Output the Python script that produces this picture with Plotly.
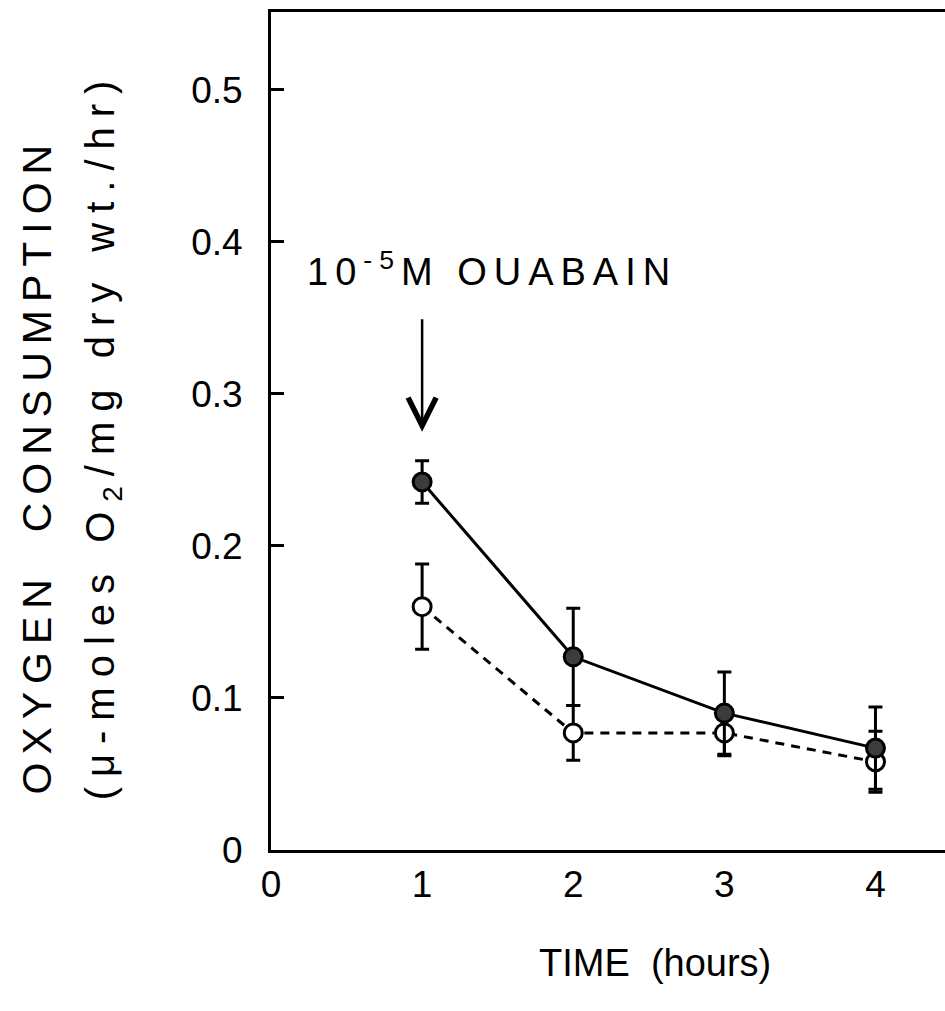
import plotly.graph_objects as go

# Oxygen consumption after ouabain addition
time_h = [1, 2, 3, 4]
control = [0.242, 0.127, 0.090, 0.067]
control_err = [0.014, 0.032, 0.027, 0.027]
ouabain = [0.160, 0.077, 0.077, 0.058]
ouabain_err = [0.028, 0.018, 0.015, 0.020]

y_ticks = [0, 0.1, 0.2, 0.3, 0.4, 0.5]
y_ticktext = ["0", "0.1", "0.2", "0.3", "0.4", "0.5"]
x_ticks = [0, 1, 2, 3, 4]
x_ticktext = ["0", "1", "2", "3", "4"]

FONT = "Liberation Sans"
INK = "black"
W = 3

fig = go.Figure()

fig.add_trace(go.Scatter(
    x=time_h, y=ouabain, mode="lines+markers",
    line=dict(color=INK, width=W, dash="9px,7px"),
    marker=dict(symbol="circle", size=18, color="white",
                line=dict(color=INK, width=W)),
    error_y=dict(type="data", array=ouabain_err, visible=True,
                 color=INK, thickness=W, width=7),
    showlegend=False,
))

fig.add_trace(go.Scatter(
    x=time_h, y=control, mode="lines+markers",
    line=dict(color=INK, width=W),
    marker=dict(symbol="circle", size=18, color="#3c3c3c",
                line=dict(color=INK, width=W)),
    error_y=dict(type="data", array=control_err, visible=True,
                 color=INK, thickness=W, width=7),
    showlegend=False,
))

annotations = [
    # treatment label and arrow
    dict(x=0.225, y=0.382, xref="x", yref="y", xanchor="left", yanchor="middle",
         align="left", showarrow=False,
         text="10<sup>-5</sup>M OUABAIN",
         font=dict(family=FONT, size=38, color=INK)),
    dict(x=1, y=0.275, xref="x", yref="y", ax=1, ay=0.35, axref="x", ayref="y",
         showarrow=True, arrowhead=5, arrowsize=2.2, arrowwidth=2.5,
         arrowcolor=INK, text=""),
    # axis titles
    dict(x=-0.347, y=0.459, xref="paper", yref="paper", textangle=-90,
         xanchor="center", yanchor="middle", showarrow=False,
         text="OXYGEN  CONSUMPTION",
         font=dict(family=FONT, size=41, color=INK)),
    dict(x=-0.249, y=0.495, xref="paper", yref="paper", textangle=-90,
         xanchor="center", yanchor="middle", showarrow=False,
         text="(\u03bc-moles O<sub>2</sub>/mg dry wt./hr)",
         font=dict(family=FONT, size=40, color=INK)),
    dict(x=0.57, y=-0.135, xref="paper", yref="paper",
         xanchor="center", yanchor="middle", showarrow=False,
         text="TIME  (hours)",
         font=dict(family=FONT, size=38, color=INK)),
]

fig.update_layout(
    width=945, height=1011,
    margin=dict(l=271, r=0, t=12, b=161),
    paper_bgcolor="white", plot_bgcolor="white",
    annotations=annotations,
    xaxis=dict(range=[0, 4.46], tickvals=x_ticks, ticktext=x_ticktext,
               showline=True, linecolor=INK, linewidth=3, mirror=True,
               ticks="", showgrid=False, zeroline=False,
               ticklabelstandoff=0,
               tickfont=dict(family=FONT, size=37, color=INK)),
    yaxis=dict(range=[0, 0.551], tickvals=y_ticks, ticktext=y_ticktext,
               showline=True, linecolor=INK, linewidth=3, mirror=False,
               ticks="inside", ticklen=13, tickwidth=3, tickcolor=INK,
               showgrid=False, zeroline=False,
               ticklabelstandoff=18,
               tickfont=dict(family=FONT, size=37, color=INK)),
)

# wide lettering for the titles
post = """
var gd = document.getElementById('{plot_id}');
gd.querySelectorAll('.annotation-text').forEach(function (t) {
  var s = t.textContent;
  if (s.indexOf('OXYGEN') >= 0) { t.style.letterSpacing = '8px'; }
  else if (s.indexOf('moles') >= 0) { t.style.letterSpacing = '10px'; }
  else if (s.indexOf('OUABAIN') >= 0) { t.style.letterSpacing = '7px'; }
});
"""

fig.write_html("out.html", post_script=post)
